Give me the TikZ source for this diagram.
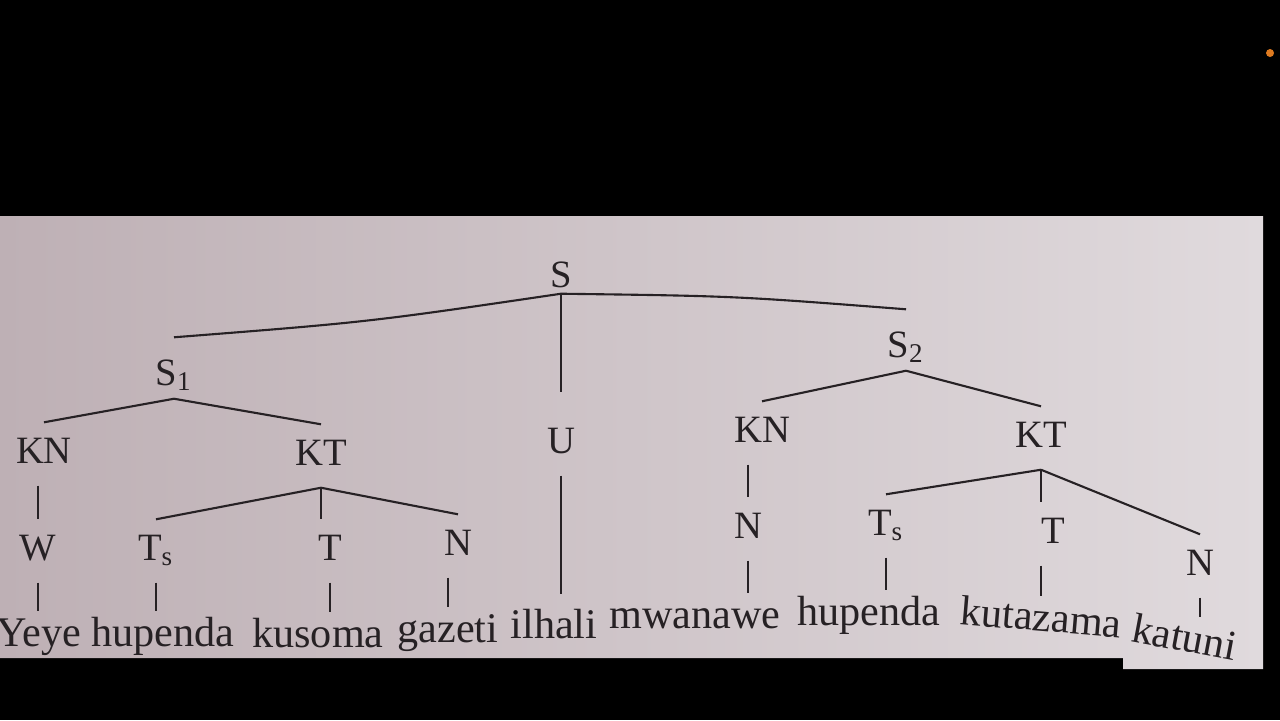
\documentclass[tikz,border=0pt]{standalone}
\usepackage{fontspec}
\setmainfont{Liberation Serif}
\usepackage{tikz}

\definecolor{pageleft}{RGB}{190,176,181}
\definecolor{pageright}{RGB}{224,218,221}
\definecolor{ink}{RGB}{38,33,36}
\definecolor{dotorange}{RGB}{222,122,32}

\tikzset{
  lab/.style={anchor=base, font=\fontsize{11}{13}\selectfont, text=ink,
    text height=0.26cm, text depth=0.08cm, inner sep=0.14cm},
  top/.style={anchor=base, font=\fontsize{11}{13}\selectfont, text=ink,
    text height=0.34cm, text depth=0cm, inner sep=0.13cm},
  word/.style={anchor=base, font=\fontsize{12}{14}\selectfont, text=ink,
    text height=0.28cm, text depth=0cm, inner sep=0.06cm},
  branch/.style={draw=ink, line width=0.6pt}
}

\begin{document}
\begin{tikzpicture}[x=0.01cm, y=-0.01cm]
                \useasboundingbox (0,0) rectangle (1280,720);
                \fill[black] (0,0) rectangle (1280,720);
                \shade[left color=pageleft, right color=pageright]
                  (0,216) -- (1263,216) -- (1263,669) -- (1123,669) -- (1123,658) -- (0,658) -- cycle;
                \fill[dotorange] (1270,53) circle (4);

                % top
                \node[top, inner sep=0.06cm] (S) at (561,287) {S};
                \node[top] (S1) at (174,385) {S\textsubscript{1}};
                \node[lab] (U) at (561,453) {U};
                \node[top] (S2) at (906,357) {S\textsubscript{2}};

                \draw[branch] (S.south) .. controls (369,322) .. (S1.north);
                \draw[branch] (S.south) .. controls (735,296) .. (S2.north);
                \draw[branch] (S.south) -- ([yshift=0.2cm]U.north);

                % left clause
                \node[lab] (KN1) at (44,463) {KN};
                \node[lab] (KT1) at (321,465) {KT};
                \node[lab] (W) at (38,560) {W};
                \node[lab] (Ts1) at (156,560) {T\textsubscript{s}};
                \node[lab] (T1) at (330,560) {T};
                \node[lab] (N1) at (458,555) {N};

                \draw[branch] (S1.south) -- (KN1.north);
                \draw[branch] (S1.south) -- (KT1.north);
                \draw[branch] (KN1.south -| W.north) -- (W.north);
                \draw[branch] (KT1.south) -- (Ts1.north);
                \draw[branch] (KT1.south) -- (KT1.south |- T1.north);
                \draw[branch] (KT1.south) -- (N1.north);

                % right clause
                \node[lab] (KN2) at (762,442) {KN};
                \node[lab] (KT2) at (1041,447) {KT};
                \node[lab] (N2) at (748,538) {N};
                \node[lab] (Ts2) at (886,535) {T\textsubscript{s}};
                \node[lab] (T2) at (1053,543) {T};
                \node[lab] (N3) at (1200,575) {N};

                \draw[branch] (S2.south) -- (KN2.north);
                \draw[branch] (S2.south) -- (KT2.north);
                \draw[branch] (KN2.south -| N2.north) -- (N2.north);
                \draw[branch] (KT2.south) -- (Ts2.north);
                \draw[branch] (KT2.south) -- (KT2.south |- T2.north);
                \draw[branch] (KT2.south) -- (N3.north);

                % sentence
                \node[word] (yeye) at (39,646) {Yeye};
                \node[word] (hup1) at (163,646) {hupenda};
                \node[word] (kus) at (318,647) {kusoma};
                \node[word] (gaz) at (448,642) {gazeti};
                \node[word] (ilh) at (554,638) {ilhali};
                \node[word] (mwa) at (695,628) {mwanawe};
                \node[word] (hup2) at (869,625) {hupenda};
                \node[word, rotate=-4.8] (kut) at (1040,631) {kutazama};
                \node[word, rotate=-10.7] (kat) at (1182,651) {katuni};

                \draw[branch] (W.south) -- (W.south |- yeye.north);
                \draw[branch] (Ts1.south) -- (Ts1.south |- hup1.north);
                \draw[branch] (T1.south) -- (T1.south |- kus.north);
                \draw[branch] (N1.south -| gaz.north) -- (gaz.north);
                \draw[branch] (U.south) -- ([yshift=0.09cm]U.south |- ilh.north);
                \draw[branch] (N2.south) -- (N2.south |- mwa.north);
                \draw[branch] (Ts2.south) -- (Ts2.south |- hup2.north);
                \draw[branch] (T2.south -| KT2.south) -- (KT2.south |- kut.north);
                \draw[branch] (N3.south) -- (N3.south |- kat.north);
            \end{tikzpicture}
\end{document}
